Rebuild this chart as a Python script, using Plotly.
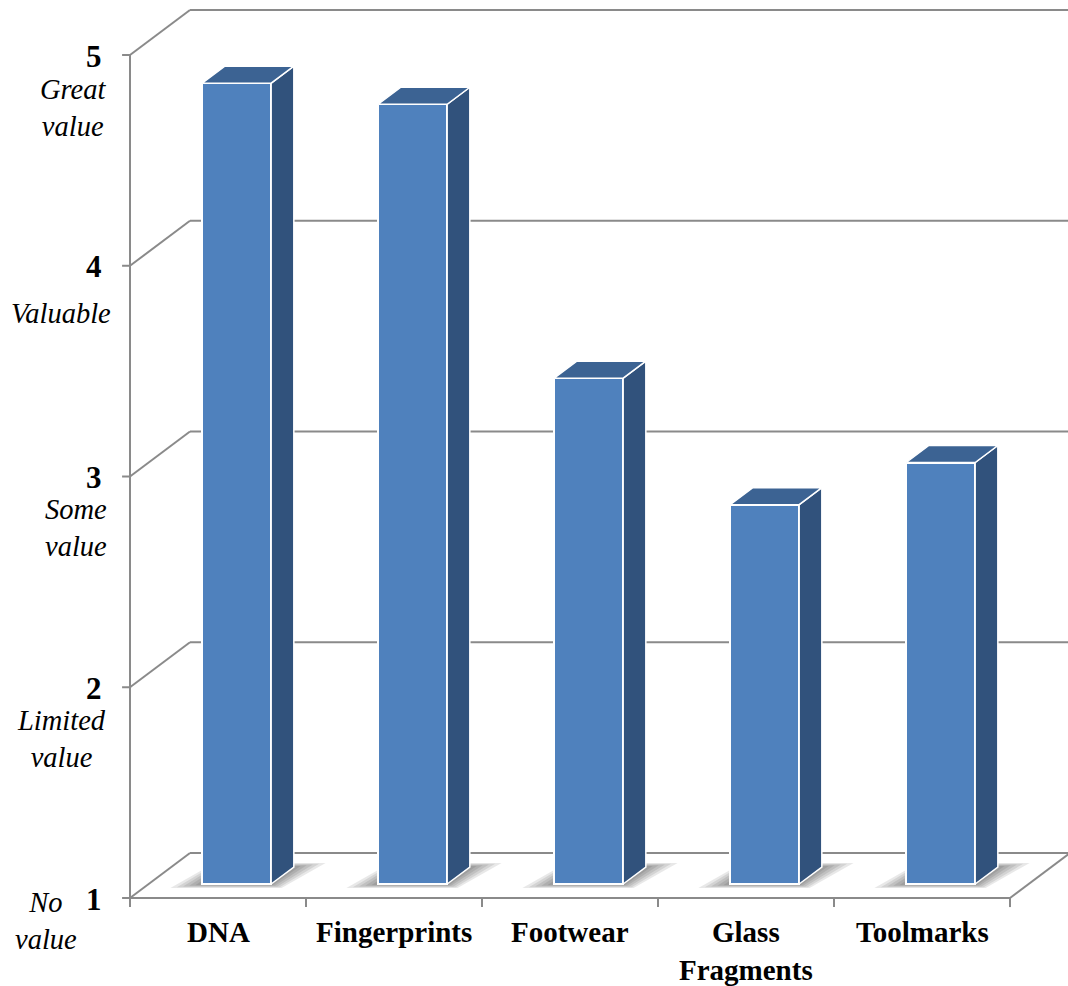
import plotly.graph_objects as go

# Rated usefulness of each evidence type (1 = no value ... 5 = great value)
categories = ["DNA", "Fingerprints", "Footwear", "Glass<br>Fragments", "Toolmarks"]
values = [4.8, 4.7, 3.4, 2.8, 3.0]
tick_values = [1, 2, 3, 4, 5]
tick_descriptions = ["No<br>value", "Limited<br>value", "Some<br>value", "Valuable", "Great<br>value"]

W, H = 1068, 986
X_RANGE = [-1.2386, 4.8295]      # one category = 176 px
Y_RANGE = [0.5825, 5.2610]       # one rating step = 210.75 px
DX, DY = 0.3409, 0.2135          # full depth of the chart box
F_FRONT, F_BACK = 0.311, 0.689   # bar front/back planes as fractions of the depth
BAR_W = 0.392
TICK_X, TICK_Y = 0.045, 0.043

GRID = "#8a8a8a"
FRONT = "#4f81bd"
SIDE = "#31527c"
TOP = "#3c6393"
FONT = "Liberation Serif"

X_LEFT = -0.5
X_RIGHT = len(categories) - 0.5

shapes = []


def add_line(x0, y0, x1, y1, color=GRID, width=2):
    shapes.append(dict(type="line", xref="x", yref="y", x0=x0, y0=y0, x1=x1, y1=y1,
                       layer="below", line=dict(color=color, width=width)))


def floor_pt(x, d):
    return x + d * DX, 1 + d * DY


# walls, floor and gridlines
for v in tick_values:
    add_line(X_LEFT, v, X_LEFT + DX, v + DY)
    add_line(X_LEFT + DX, v + DY, X_RANGE[1], v + DY)
    add_line(X_LEFT - TICK_X, v, X_LEFT, v)
add_line(X_LEFT, tick_values[0], X_LEFT, tick_values[-1])
add_line(X_LEFT, 1, X_RIGHT, 1)
add_line(X_RIGHT, 1, X_RIGHT + DX, 1 + DY)
for k in range(len(categories) + 1):
    add_line(X_LEFT + k, 1, X_LEFT + k, 1 - TICK_Y)

# soft floor shadows under the bars
for i, _ in enumerate(categories):
    xl, xr = i - BAR_W / 2, i + BAR_W / 2
    for a, b in [(0.15, 0.09), (0.12, 0.07), (0.09, 0.055), (0.06, 0.04), (0.03, 0.025)]:
        pts = [floor_pt(xl - a, F_FRONT - b), floor_pt(xr + a * 0.6, F_FRONT - b),
               floor_pt(xr + a, F_BACK + b), floor_pt(xl - a * 0.6, F_BACK + b)]
        path = "M " + " L ".join(f"{px:.4f},{py:.4f}" for px, py in pts) + " Z"
        shapes.append(dict(type="path", xref="x", yref="y", path=path, layer="below",
                           fillcolor="rgba(0,0,0,0.09)", line=dict(width=0)))

fig = go.Figure()

# front faces of the bars
front_x = [i + F_FRONT * DX for i in range(len(categories))]
base = 1 + F_FRONT * DY
fig.add_trace(go.Bar(
    x=front_x, y=[v - 1 for v in values], base=[base] * len(values), width=BAR_W,
    marker=dict(color=FRONT, line=dict(color="white", width=2)),
    hoverinfo="skip", showlegend=False,
))

# side and top faces
bdx, bdy = (F_BACK - F_FRONT) * DX, (F_BACK - F_FRONT) * DY
for cx, v in zip(front_x, values):
    xl, xr = cx - BAR_W / 2, cx + BAR_W / 2
    top = v + F_FRONT * DY
    fig.add_trace(go.Scatter(
        x=[xr, xr, xr + bdx, xr + bdx, xr], y=[base, top, top + bdy, base + bdy, base],
        mode="lines", fill="toself", fillcolor=SIDE, line=dict(color="white", width=1.5),
        hoverinfo="skip", showlegend=False))
    fig.add_trace(go.Scatter(
        x=[xl, xr, xr + bdx, xl + bdx, xl], y=[top, top, top + bdy, top + bdy, top],
        mode="lines", fill="toself", fillcolor=TOP, line=dict(color="white", width=1.5),
        hoverinfo="skip", showlegend=False))

annotations = []
# numeric rating ticks and their descriptions
desc_shift = {1: (-84, -23), 2: (-69, -52), 3: (-54, -51), 4: (-69, -48), 5: (-57, -53)}
for v, d in zip(tick_values, tick_descriptions):
    annotations.append(dict(x=X_LEFT, y=v, xref="x", yref="y", text=f"<b>{v}</b>",
                            xanchor="right", yanchor="middle", xshift=-26, yshift=-1,
                            showarrow=False, font=dict(family=FONT, size=31, color="black")))
    sx, sy = desc_shift[v]
    annotations.append(dict(x=X_LEFT, y=v, xref="x", yref="y", text=f"<i>{d}</i>",
                            xanchor="center", yanchor="middle", xshift=sx, yshift=sy,
                            align="center", showarrow=False,
                            font=dict(family=FONT, size=28.5, color="black")))

# category labels under the floor
for i, c in enumerate(categories):
    annotations.append(dict(x=i, y=1, xref="x", yref="y", text=f"<b>{c}</b>",
                            xanchor="center", yanchor="top", yshift=-16, align="center",
                            showarrow=False, font=dict(family=FONT, size=29, color="black")))

fig.update_layout(
    width=W, height=H, margin=dict(l=0, r=0, t=0, b=0),
    paper_bgcolor="white", plot_bgcolor="white",
    xaxis=dict(range=X_RANGE, visible=False, fixedrange=True),
    yaxis=dict(range=Y_RANGE, visible=False, fixedrange=True),
    shapes=shapes, annotations=annotations, showlegend=False, bargap=0,
)

fig.write_html("out.html")
